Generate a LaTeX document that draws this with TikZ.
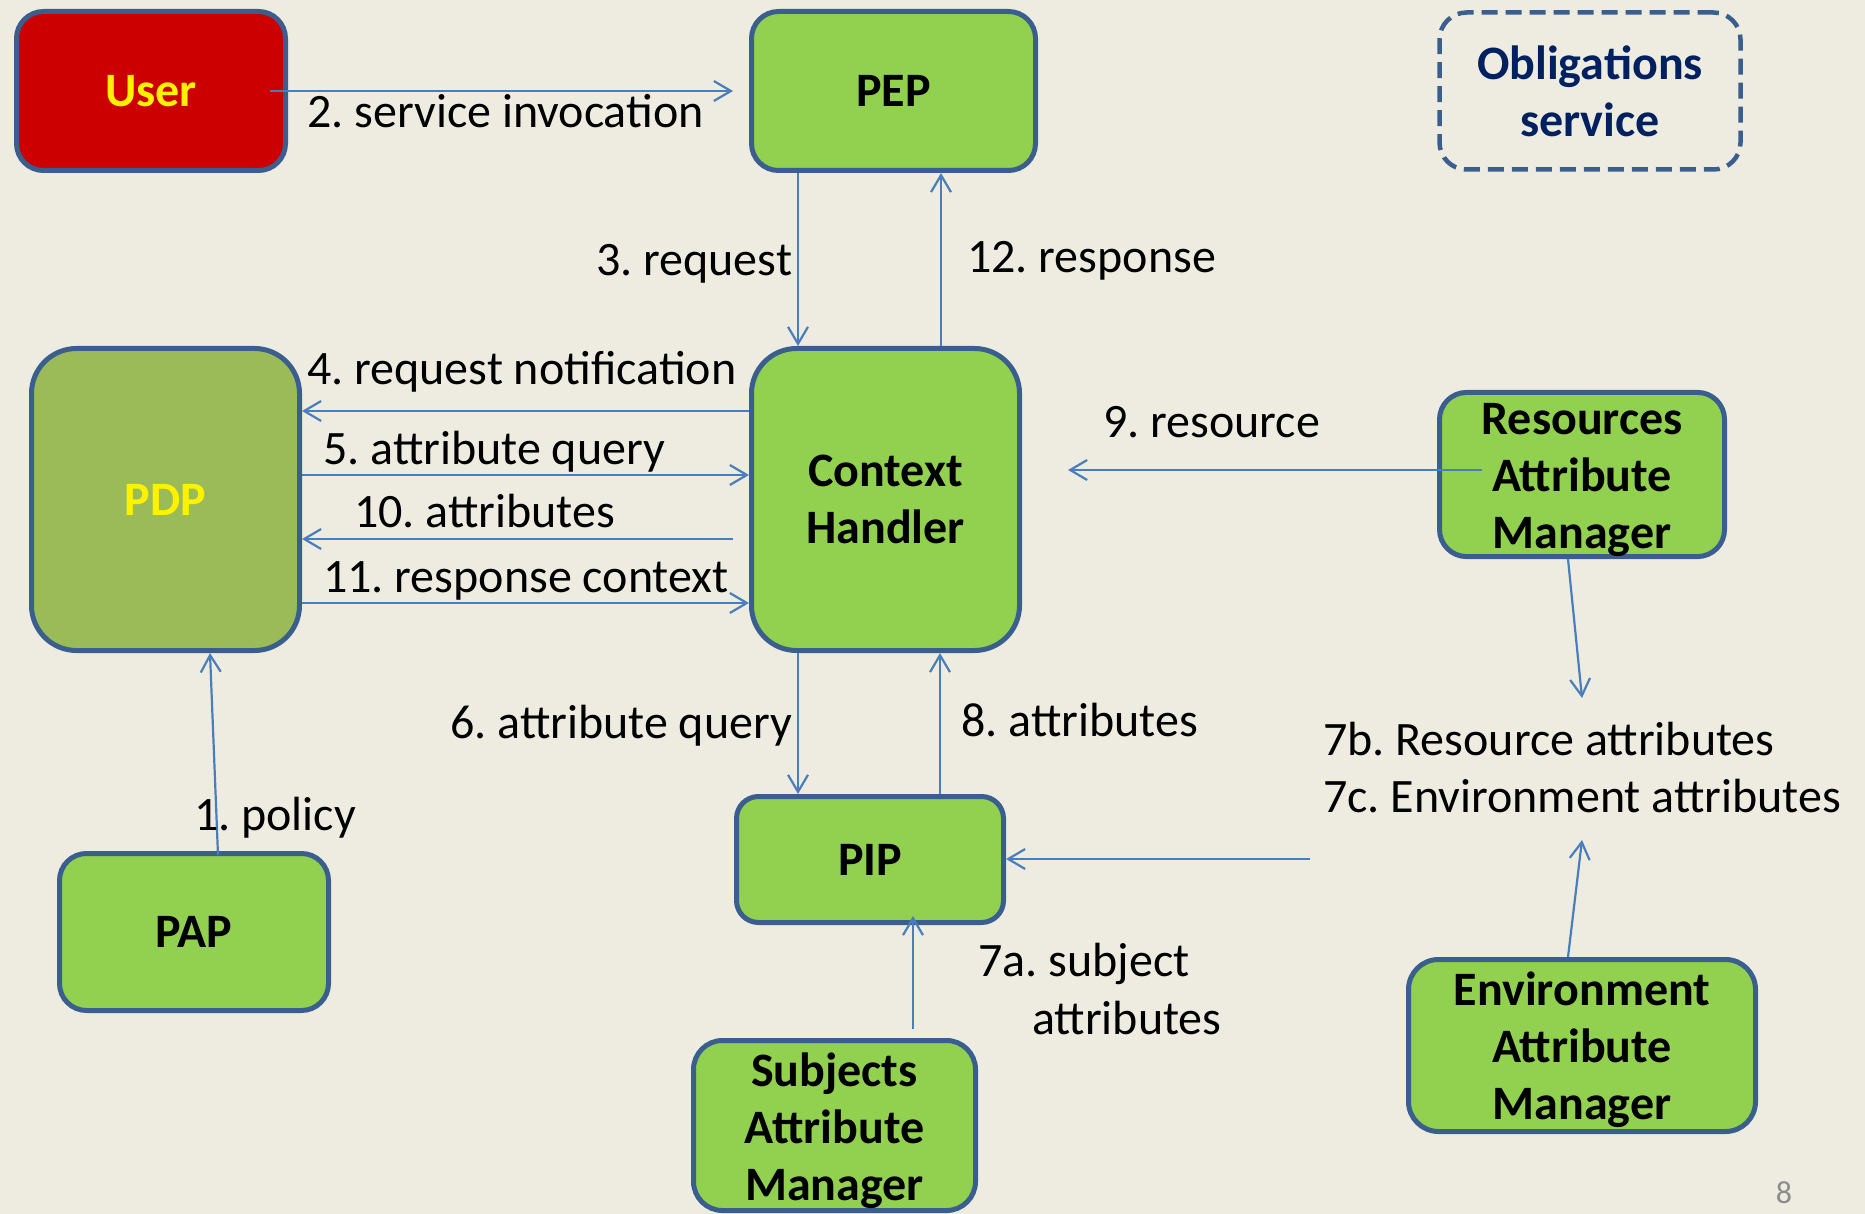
\documentclass[tikz,border=0pt]{standalone}
\usepackage{fontspec}
\setmainfont{Carlito}
\usetikzlibrary{arrows.meta,calc}

\definecolor{bgtan}{HTML}{EEECE1}
\definecolor{boxgreen}{HTML}{92D050}
\definecolor{boxolive}{HTML}{9BBB59}
\definecolor{boxred}{HTML}{CC0000}
\definecolor{boxedge}{HTML}{3A5F8E}
\definecolor{linkblue}{HTML}{4A7EBB}
\definecolor{navytext}{HTML}{002060}
\definecolor{pagegray}{HTML}{8C8C8C}

\frenchspacing

\begin{document}
\begin{tikzpicture}[x=1pt,y=-1pt,
  box/.style={draw=boxedge, line width=5pt, rectangle, inner sep=0pt,
    align=center, font=\bfseries\fontsize{48}{57}\selectfont},
  greenbox/.style={box, fill=boxgreen},
  conn/.style={draw=linkblue, line width=2.2pt,
    -{Straight Barb[length=17pt,width=20pt]}},
  lbl/.style={inner sep=0pt, anchor=base west,
    font=\fontsize{48}{57}\selectfont}
]
% canvas
\fill[bgtan] (0,0) rectangle (1865,1214);
\useasboundingbox (0,0) rectangle (1865,1214);

% components
\node[box, fill=boxred, text=yellow, minimum width=269pt, minimum height=159pt,
  rounded corners=27pt] (user) at (151,91) {User};
\node[greenbox, minimum width=284pt, minimum height=159pt,
  rounded corners=27pt] (pep) at (893.5,91) {PEP};
\node[box, dashed, dash pattern=on 16pt off 8pt, line width=4.5pt, text=navytext,
  minimum width=301pt, minimum height=157pt, rounded corners=27pt]
  (obl) at (1590,91) {Obligations\\service};
\node[box, fill=boxolive, text=yellow, minimum width=268pt, minimum height=302pt,
  rounded corners=45pt] (pdp) at (165.5,499.5) {PDP};
\node[greenbox, minimum width=268pt, minimum height=302pt,
  rounded corners=45pt] (ch) at (885.5,499.5) {Context\\Handler};
\node[greenbox, minimum width=285pt, minimum height=156pt,
  rounded corners=27pt] (ram) at (1582,474.5)
  {\rule{0pt}{42pt}Resources\\Attribute\\Manager};
\node[greenbox, minimum width=269pt, minimum height=157pt,
  rounded corners=27pt] (pap) at (194,932) {PAP};
\node[greenbox, minimum width=267pt, minimum height=126pt,
  rounded corners=22pt] (pip) at (870,859.5) {PIP};
\node[greenbox, minimum width=282pt, minimum height=170pt,
  rounded corners=29pt] (sam) at (834.5,1125.5)
  {\rule{0pt}{44pt}Subjects\\Attribute\\Manager};
\node[greenbox, minimum width=347pt, minimum height=172pt,
  rounded corners=30pt] (eam) at (1582,1045.5)
  {\rule{0pt}{42pt}Environment\\Attribute\\Manager};

% free ends of connectors
\coordinate (resTip) at (1068,470);
\coordinate (rattrTip) at (1582,698);
\coordinate (eattrTip) at (1582,840);
\coordinate (attrSrc) at (1310,859);

% connectors
\draw[conn] ([xshift=-18pt]user.east) -- ([xshift=-16pt]pep.west);
\draw[conn] ([xshift=-95.5pt]pep.south) -- ([xshift=-95.5pt]pep.south |- ch.north);
\draw[conn] ([xshift=55.5pt]ch.north) -- ([xshift=55.5pt]ch.north |- pep.south);
\draw[conn] ([yshift=88.5pt]ch.west) -- ([yshift=88.5pt]ch.west -| pdp.east);
\draw[conn] ([yshift=24.5pt]pdp.east) -- ([yshift=24.5pt]pdp.east -| ch.west);
\draw[conn] ([xshift=-16pt,yshift=-39.5pt]ch.west) -- ([yshift=-39.5pt]ch.west -| pdp.east);
\draw[conn] ([yshift=-103.5pt]pdp.east) -- ([yshift=-103.5pt]pdp.east -| ch.west);
\draw[conn] ([xshift=24pt,yshift=-4pt]pap.north) -- ([xshift=44.5pt]pdp.south);
\draw[conn] ([xshift=-87.5pt]ch.south) -- ([xshift=-87.5pt]ch.south |- pip.north);
\draw[conn] ([xshift=70pt]pip.north) -- ([xshift=70pt]pip.north |- ch.south);
\draw[conn] ([xshift=78.5pt,yshift=9pt]sam.north) -- ([xshift=78.5pt,yshift=9pt]sam.north |- pip.south);
\draw[conn] ([xshift=-100pt,yshift=4.5pt]ram.center) -- (resTip);
\draw[conn] ([xshift=-14pt]ram.south) -- (rattrTip);
\draw[conn] ([xshift=-14pt]eam.north) -- (eattrTip);
\draw[conn] (attrSrc) -- (attrSrc -| pip.east);

% connector labels
\node[lbl] (l2) at (307,128) {2. service invocation};
\node[lbl] (l3) at (596,276) {3. request};
\node[lbl] (l12) at (967,273) {12. response};
\node[lbl] (l4) at (307,384) {4. request notification};
\node[lbl] (l5) at (323,464) {5. attribute query};
\node[lbl] (l10) at (354,527) {10. attributes};
\node[lbl] (l11) at (323,592) {11. response context};
\node[lbl] (l9) at (1103,437) {9. resource};
\node[lbl] (l6) at (450,738) {6. attribute query};
\node[lbl] (l8) at (961,736) {8. attributes};
\node[lbl] (l7b) at (1323,755) {7b. Resource attributes};
\node[lbl] (l7c) at (1323,812) {7c. Environment attributes};
\node[lbl] (l1) at (194,830) {1. policy};
\node[lbl] (l7a) at (978,976) {7a. subject};
\node[lbl] (l7a2) at (1032,1034) {attributes};

% slide number
\node[inner sep=0pt, text=pagegray, font=\fontsize{32}{38}\selectfont]
  (pnum) at (1784,1193) {8};
\end{tikzpicture}
\end{document}
